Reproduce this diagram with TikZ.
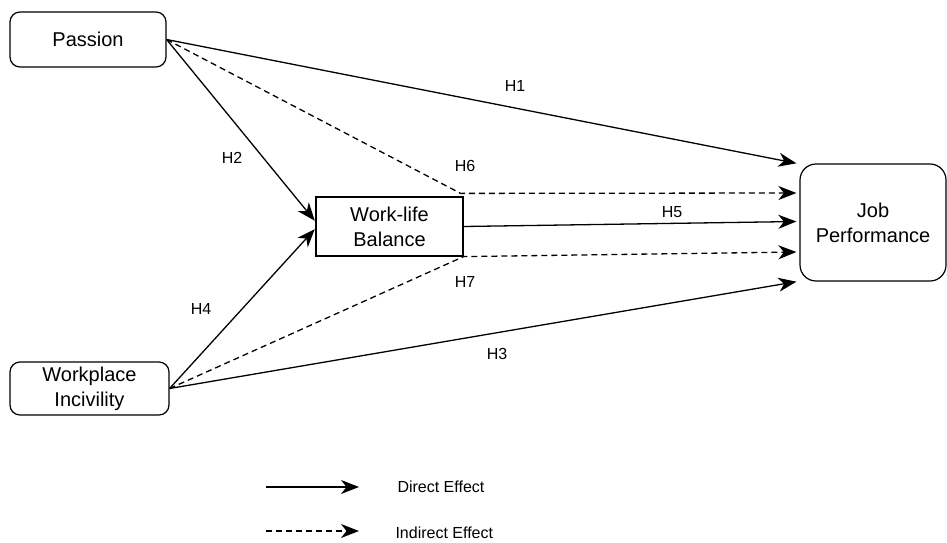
\documentclass[tikz,border=0pt]{standalone}
\usepackage{fontspec}
\setmainfont{Liberation Sans}
\usetikzlibrary{arrows.meta, positioning}

\begin{document}
\begin{tikzpicture}[
    x=1pt, y=-1pt,
    construct/.style={rectangle, draw=black, fill=white, line width=1.2pt, rounded corners=10pt, align=center, inner sep=0pt, font=\fontsize{20}{25}\selectfont},
    mediator/.style={rectangle, draw=black, fill=white, line width=1.2pt, align=center, inner sep=0pt, font=\fontsize{20}{25}\selectfont},
    hlabel/.style={font=\fontsize{16}{19}\selectfont},
    direct/.style={-{Stealth[length=18pt, width=14pt, inset=5.5pt]}, line width=1.3pt, shorten >=1pt},
    indirect/.style={direct, dash pattern=on 6pt off 4pt}
]
\useasboundingbox (0,0) rectangle (947,543);

\node (passion) [construct, minimum width=156pt, minimum height=55pt] at (88,39.5) {Passion};
\node (incivility) [construct, minimum width=159pt, minimum height=53pt] at (89.5,388.5) {Workplace\\Incivility};
\node (wlb) [mediator, minimum width=147pt, minimum height=59pt] at (389.5,226.5) {Work-life\\Balance};
\node (job) [construct, rounded corners=16pt, minimum width=146pt, minimum height=117pt] at (873,222.5) {Job\\Performance};

% direct paths
\draw [direct] (passion.east) -- ([xshift=-2pt, yshift=59pt]job.west);
\draw [direct] (passion.east) -- ([yshift=5pt]wlb.west);
\draw [direct] (incivility.east) -- ([yshift=-2pt]wlb.west);
\draw [direct] (wlb.east) -- ([xshift=-2pt, yshift=1pt]job.west);
\draw [direct] (incivility.east) -- ([xshift=-2pt, yshift=-59pt]job.west);

% indirect paths
\draw [indirect] (passion.east) -- ([xshift=-3pt, yshift=3pt]wlb.north east) -- ([xshift=-2pt, yshift=29.5pt]job.west);
\draw [indirect] (incivility.east) -- (wlb.south east) -- ([xshift=-2pt, yshift=-29.5pt]job.west);

% hypothesis labels
\node (h1) [hlabel] at (515,86) {H1};
\node (h2) [hlabel] at (232,158) {H2};
\node (h4) [hlabel] at (201,309) {H4};
\node (h6) [hlabel] at (465,166) {H6};
\node (h7) [hlabel] at (465,282) {H7};
\node (h5) [hlabel] at (672,212) {H5};
\node (h3) [hlabel] at (497,354) {H3};

% legend
\coordinate (dstart) at (266,487);
\coordinate (dend) at (360,487);
\coordinate (istart) at (266,531);
\coordinate (iend) at (360,531);
\draw [direct] (dstart) -- (dend);
\draw [indirect] (istart) -- (iend);
\node (directlbl) [hlabel, anchor=west] at (394,487) {Direct Effect};
\node (indirectlbl) [hlabel, anchor=west] at (392,533) {Indirect Effect};
\end{tikzpicture}
\end{document}
